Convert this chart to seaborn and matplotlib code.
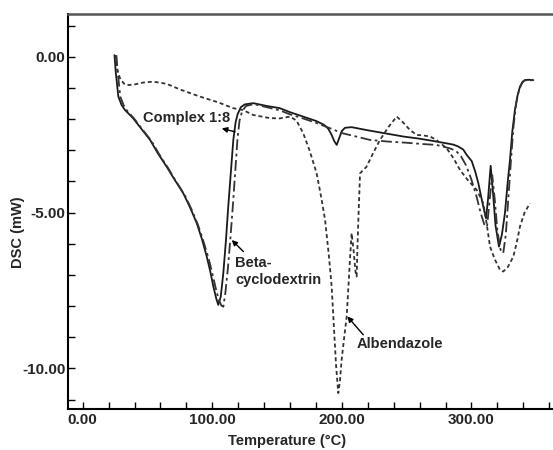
import numpy as np
import pandas as pd
import matplotlib
matplotlib.use("Agg")
import matplotlib.pyplot as plt
from matplotlib.ticker import MultipleLocator, FormatStrFormatter
import seaborn as sns

# -------------------------------------------------------
# Data (Temperature in C, DSC in mW)
# -------------------------------------------------------
complex_temp = [24.5, 25.5, 27.5, 30, 32.6, 36, 39, 45, 52, 58, 64.8, 71, 77.6, 83, 88,
                92, 95.7, 98.5, 100.8, 103, 104.6, 106.5, 108.5, 110.5, 112.3, 114.5,
                116.2, 118, 119.5, 122, 125, 131.6, 142, 152, 160, 170, 180, 186, 189.3,
                192, 194, 196, 198, 200, 202.4, 207.5, 220, 235, 247.4, 260, 270, 280.9,
                286, 289.8, 293.7, 296.3, 300.2, 303, 305.3, 307.5, 309.1, 311.2, 312.7,
                314.8, 316.5, 318.5, 321.2, 323.5, 325.8, 328, 329.7, 331.5, 333.5,
                335.5, 337.4, 339.5, 341.3, 344, 347.7]
complex_dsc = [0.05, -0.5, -1.28, -1.55, -1.71, -1.85, -1.98, -2.3, -2.67, -3.1, -3.53,
               -3.95, -4.38, -4.85, -5.34, -5.85, -6.41, -6.9, -7.37, -7.75, -7.96, -7.7,
               -6.94, -5.9, -4.81, -3.6, -2.67, -2.1, -1.85, -1.62, -1.53, -1.49, -1.58,
               -1.65, -1.78, -1.92, -2.06, -2.18, -2.3, -2.5, -2.7, -2.83, -2.6, -2.38,
               -2.28, -2.26, -2.36, -2.47, -2.56, -2.63, -2.7, -2.78, -2.82, -2.88, -2.98,
               -3.15, -3.35, -3.7, -4.06, -4.5, -4.81, -5.18, -4.6, -3.5, -4.3, -5.4,
               -6.09, -5.7, -5.02, -4.0, -3.31, -2.4, -1.71, -1.25, -0.96, -0.8, -0.75,
               -0.74, -0.75]

betacd_temp = [26, 27, 29, 31.5, 34, 37, 40, 46, 53, 59, 66, 72, 78.5, 84, 89, 93, 97,
               100, 102.5, 105, 107, 108.5, 110, 112, 114, 116, 118, 119.5, 121, 123,
               126, 132, 142, 152, 160, 170, 180, 190, 200, 210, 221.7, 235, 250, 262,
               273, 283.3, 288, 292, 296, 300, 304, 307, 310, 312, 314, 316, 318, 320,
               322.5, 324.5, 326.5, 328.5, 330.5, 332.5, 334.5, 336.5, 338.5, 340.5,
               343, 347]
betacd_dsc = [0.05, -0.5, -1.28, -1.55, -1.72, -1.86, -2.0, -2.33, -2.7, -3.13, -3.58,
              -4.0, -4.42, -4.9, -5.4, -5.9, -6.45, -6.95, -7.4, -7.8, -7.98, -8.02,
              -7.6, -6.8, -5.8, -4.7, -3.5, -2.6, -2.05, -1.75, -1.58, -1.52, -1.62,
              -1.72, -1.85, -1.98, -2.12, -2.28, -2.45, -2.55, -2.67, -2.72, -2.76,
              -2.8, -2.83, -2.94, -3.02, -3.2, -3.5, -3.95, -4.5, -5.0, -5.4, -5.45,
              -4.6, -3.8, -4.6, -5.6, -6.2, -6.3, -5.7, -4.5, -3.3, -2.2, -1.5, -1.1,
              -0.88, -0.77, -0.74, -0.76]

albendazole_temp = [25, 26.5, 29, 32, 34, 39, 46.5, 54.3, 64.8, 75, 90.5, 105, 116,
                    123.7, 131.6, 144.5, 152, 160, 165, 170.2, 175, 180.5, 184, 187,
                    190, 192.1, 194, 195.5, 197.2, 198.5, 199.8, 201.5, 203.7, 205,
                    206.2, 207.5, 209, 210.5, 211.4, 212, 212.7, 214, 219, 224, 229.4,
                    236, 242.3, 247, 252.5, 257.7, 262, 268, 273, 280.9, 286, 291.1,
                    297, 304, 309.1, 311.5, 314.3, 318, 322, 324.5, 328, 332.3, 335,
                    337.4, 341, 345.1]
albendazole_dsc = [0.05, -0.4, -0.72, -0.87, -0.91, -0.9, -0.83, -0.8, -0.87, -1.05,
                   -1.28, -1.47, -1.65, -1.71, -1.87, -1.97, -1.98, -1.92, -2.05, -2.46,
                   -3.0, -3.74, -4.5, -5.23, -6.4, -7.37, -8.8, -9.9, -10.79, -10.4,
                   -9.72, -9.1, -8.33, -7.4, -6.52, -5.66, -6.2, -6.9, -7.05, -6.1,
                   -5.23, -3.74, -3.53, -3.1, -2.67, -2.25, -1.92, -2.1, -2.35, -2.51,
                   -2.52, -2.56, -2.67, -2.94, -3.25, -3.63, -3.95, -4.27, -4.7, -5.3,
                   -6.09, -6.5, -6.84, -6.89, -6.75, -6.41, -5.95, -5.45, -5.0, -4.7]

x_major = [0, 100, 200, 300]
y_major = [0, -5, -10]


def make_frame(temp, dsc, name):
    return pd.DataFrame({"Temperature": temp, "DSC": dsc, "sample": name})


sns.set_style("ticks")
plt.rcParams["font.family"] = ["Liberation Sans", "DejaVu Sans"]
plt.rcParams["font.weight"] = "bold"

fig = plt.figure(figsize=(5.53, 4.5), dpi=100)
ax = fig.add_axes([0.1224, 0.0904, 0.8776, 0.8785])

# Complex 1:8 - garis solid
sns.lineplot(data=make_frame(complex_temp, complex_dsc, "Complex 1:8"),
             x="Temperature", y="DSC", ax=ax, color="#1a1a1a", linewidth=1.3,
             estimator=None, sort=False)
# Beta-cyclodextrin - garis putus-titik
sns.lineplot(data=make_frame(betacd_temp, betacd_dsc, "Beta-cyclodextrin"),
             x="Temperature", y="DSC", ax=ax, color="#333333", linewidth=1.3,
             estimator=None, sort=False, linestyle=(0, (6, 2, 1.5, 2)))
# Albendazole - garis putus pendek
sns.lineplot(data=make_frame(albendazole_temp, albendazole_dsc, "Albendazole"),
             x="Temperature", y="DSC", ax=ax, color="#333333", linewidth=1.3,
             estimator=None, sort=False, linestyle=(0, (2.2, 1.6)))

ax.set_xlim(-11.6, 362.9)
ax.set_ylim(-11.31, 1.37)

ax.xaxis.set_major_locator(plt.FixedLocator(x_major))
ax.xaxis.set_minor_locator(MultipleLocator(20))
ax.yaxis.set_major_locator(plt.FixedLocator(y_major))
ax.yaxis.set_minor_locator(MultipleLocator(1))
ax.xaxis.set_major_formatter(FormatStrFormatter("%.2f"))
ax.yaxis.set_major_formatter(FormatStrFormatter("%.2f"))
ax.tick_params(which="both", direction="in", length=5, width=1, color="black",
               top=False, right=False)
ax.tick_params(axis="y", which="major", pad=1.5, labelsize=11)
ax.tick_params(axis="x", which="major", pad=3, labelsize=11)
for lbl in ax.get_xticklabels() + ax.get_yticklabels():
    lbl.set_fontweight("bold")

for side in ["left", "bottom"]:
    ax.spines[side].set_color("black")
    ax.spines[side].set_linewidth(1.5)
ax.spines["top"].set_color("#555555")
ax.spines["top"].set_linewidth(1.8)
ax.spines["right"].set_visible(False)

ax.set_xlabel("Temperature (\u00b0C)", fontsize=10.5, fontweight="bold")
ax.set_ylabel("DSC (mW)", fontsize=10.5, fontweight="bold")
ax.xaxis.set_label_coords(0.451, -0.062)
ax.yaxis.set_label_coords(-0.088, 0.449)

arrow = dict(arrowstyle="-|>", color="black", lw=1, mutation_scale=8,
             shrinkA=0, shrinkB=0)
ax.text(80.5, -1.97, "Complex 1:8", fontsize=10.5, fontweight="bold",
        ha="center", va="center")
ax.annotate("", xy=(107.3, -2.3), xytext=(117.5, -2.41), arrowprops=arrow)

ax.text(117.6, -6.88, "Beta-\ncyclodextrin", fontsize=10.5, fontweight="bold",
        ha="left", va="center", linespacing=1.3)
ax.annotate("", xy=(115, -5.88), xytext=(124, -6.25), arrowprops=arrow)

ax.text(244.4, -9.22, "Albendazole", fontsize=10.5, fontweight="bold",
        ha="center", va="center")
ax.annotate("", xy=(204.2, -8.33), xytext=(216.5, -8.92), arrowprops=arrow)

fig.savefig("out.png", dpi=100)
